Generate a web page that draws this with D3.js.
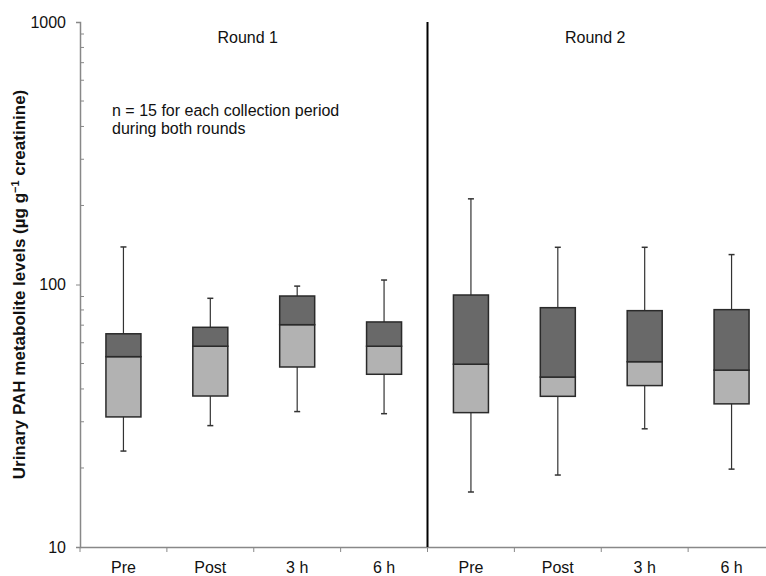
<!DOCTYPE html>
<html>
<head>
<meta charset="utf-8">
<script src="https://cdn.jsdelivr.net/npm/d3@7/dist/d3.min.js"></script>
<style>
  body { margin: 0; background: #fff; }
  text { font-family: "Liberation Sans", Arial, sans-serif; fill: #111; }
</style>
</head>
<body>
<svg width="766" height="576"></svg>
<script>
const svg = d3.select('svg');

// data
const periods = ['Pre', 'Post', '3 h', '6 h', 'Pre', 'Post', '3 h', '6 h'];
const rounds = ['Round 1', 'Round 2'];
const whiskerLow = [23.2, 29.0, 32.8, 32.2, 16.2, 18.8, 28.2, 19.8];
const q1 = [31.3, 37.6, 48.5, 45.5, 32.5, 37.5, 41.2, 35.1];
const median = [53.1, 58.2, 70.3, 58.2, 49.7, 44.4, 50.8, 47.2];
const q3 = [64.9, 68.7, 90.4, 72.0, 91.2, 81.6, 79.5, 80.2];
const whiskerHigh = [139, 88.6, 98.6, 104, 212, 138.6, 138.6, 130];
const yTicks = [10, 100, 1000];

const mLeft = 80, mRight = 775, mTop = 22, mBottom = 547;

const x = d3.scaleBand()
  .domain(d3.range(periods.length))
  .range([mLeft, mRight]);

const y = d3.scaleLog()
  .domain([10, 1000])
  .range([mBottom, mTop]);

const boxW = 35;

// y axis with major ticks outside, minor ticks inside
const yAxis = svg.append('g')
  .attr('transform', `translate(${mLeft},0)`)
  .call(d3.axisLeft(y).tickValues(yTicks).tickFormat(d3.format('d')).tickSize(4).tickPadding(10));

const minor = [];
[10, 100].forEach(b => { for (let k = 2; k <= 9; k++) minor.push(b * k); });
svg.append('g')
  .selectAll('line')
  .data(minor)
  .enter()
  .append('line')
  .attr('x1', mLeft)
  .attr('x2', mLeft + 4)
  .attr('y1', d => y(d))
  .attr('y2', d => y(d))
  .attr('stroke', '#888');

// x axis
const xAxis = svg.append('g')
  .attr('transform', `translate(0,${mBottom})`)
  .call(d3.axisBottom(x).tickValues([]).tickSizeOuter(0));

svg.append('g')
  .selectAll('line')
  .data(d3.range(periods.length + 1))
  .enter()
  .append('line')
  .attr('x1', i => mLeft + i * x.step())
  .attr('x2', i => mLeft + i * x.step())
  .attr('y1', mBottom)
  .attr('y2', mBottom + 5)
  .attr('stroke', '#888');

svg.append('g')
  .selectAll('text')
  .data(periods)
  .enter()
  .append('text')
  .attr('x', (d, i) => x(i) + x.bandwidth() / 2)
  .attr('y', 573)
  .attr('text-anchor', 'middle')
  .style('font-size', '16px')
  .text(d => d);

[yAxis, xAxis].forEach(a => {
  a.selectAll('.domain').attr('stroke', '#888').attr('stroke-width', 1.5);
  a.selectAll('.tick line').attr('stroke', '#888');
  a.selectAll('.tick text').style('font-size', '16px').attr('fill', '#111');
});

// divider between the rounds
svg.append('line')
  .attr('x1', x(4))
  .attr('x2', x(4))
  .attr('y1', mTop)
  .attr('y2', mBottom)
  .attr('stroke', '#000')
  .attr('stroke-width', 2);

// boxes
const boxes = svg.append('g')
  .selectAll('g')
  .data(periods)
  .enter()
  .append('g')
  .attr('transform', (d, i) => `translate(${x(i) + x.bandwidth() / 2},0)`);

boxes.append('line')
  .attr('y1', (d, i) => y(whiskerHigh[i]))
  .attr('y2', (d, i) => y(whiskerLow[i]))
  .attr('stroke', '#333')
  .attr('stroke-width', 1.2);

boxes.selectAll('.cap')
  .data((d, i) => [whiskerHigh[i], whiskerLow[i]])
  .enter()
  .append('line')
  .attr('x1', -3)
  .attr('x2', 3)
  .attr('y1', d => y(d))
  .attr('y2', d => y(d))
  .attr('stroke', '#333')
  .attr('stroke-width', 1.5);

boxes.append('rect')
  .attr('x', -boxW / 2)
  .attr('width', boxW)
  .attr('y', (d, i) => y(median[i]))
  .attr('height', (d, i) => y(q1[i]) - y(median[i]))
  .attr('fill', '#b2b2b2')
  .attr('stroke', '#2a2a2a')
  .attr('stroke-width', 1.5);

boxes.append('rect')
  .attr('x', -boxW / 2)
  .attr('width', boxW)
  .attr('y', (d, i) => y(q3[i]))
  .attr('height', (d, i) => y(median[i]) - y(q3[i]))
  .attr('fill', '#696969')
  .attr('stroke', '#2a2a2a')
  .attr('stroke-width', 1.5);

// round titles
svg.append('g')
  .selectAll('text')
  .data(rounds)
  .enter()
  .append('text')
  .attr('x', (d, i) => x(i * 4) + 2 * x.step() - 6)
  .attr('y', 43)
  .attr('text-anchor', 'middle')
  .style('font-size', '16px')
  .text(d => d);

// note
const note = svg.append('text')
  .attr('x', 112)
  .attr('y', 116)
  .style('font-size', '16px');
note.append('tspan').text('n = 15 for each collection period');
note.append('tspan').attr('x', 112).attr('dy', 18).text('during both rounds');

// y axis title
const title = svg.append('text')
  .attr('transform', `translate(25,${(mTop + mBottom) / 2}) rotate(-90)`)
  .attr('text-anchor', 'middle')
  .style('font-size', '17px')
  .style('font-weight', 'bold');
title.append('tspan').text('Urinary PAH metabolite levels (µg g');
title.append('tspan').attr('dy', -6).style('font-size', '11px').text('−1');
title.append('tspan').attr('dy', 6).text(' creatinine)');
</script>
</body>
</html>
